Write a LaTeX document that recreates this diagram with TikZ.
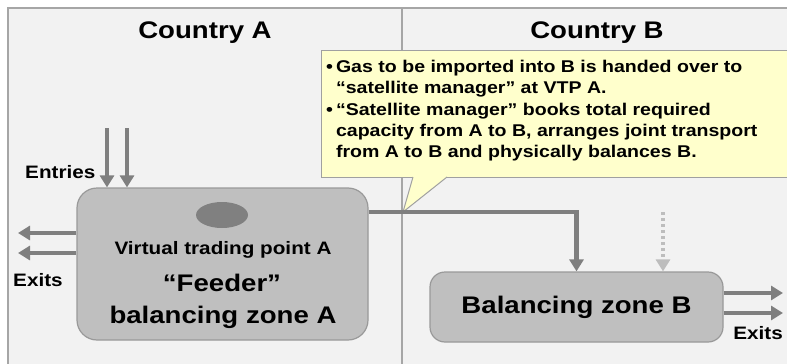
\documentclass[tikz,border=0pt]{standalone}
\usepackage{fontspec}
\setmainfont{Liberation Sans}[FakeStretch=1.15]
\usetikzlibrary{arrows.meta,shapes.geometric}
\definecolor{bggray}{HTML}{F2F2F2}
\definecolor{framegray}{HTML}{A6A6A6}
\definecolor{zonefill}{HTML}{BFBFBF}
\definecolor{zoneline}{HTML}{999999}
\definecolor{ellfill}{HTML}{808080}
\definecolor{arrowgray}{HTML}{7F7F7F}
\definecolor{lightarrow}{HTML}{BDBDBD}
\definecolor{callfill}{HTML}{FFFFCC}
\definecolor{callline}{HTML}{A0A0A0}
\tikzset{
  big/.style={font=\bfseries\fontsize{24}{28}\selectfont},
  mid/.style={font=\bfseries\fontsize{18}{21}\selectfont},
  zone/.style={draw=zoneline, line width=1.2pt, fill=zonefill, rounded corners=20pt, inner sep=0pt},
  flow/.style={draw=arrowgray, line width=4.5pt, -{Triangle[length=12pt,width=14pt]}},
  flowlight/.style={draw=lightarrow, line width=4pt, dash pattern=on 3pt off 3pt, -{Triangle[length=12pt,width=14pt]}},
  callbox/.style={draw=callline, line width=1.2pt, fill=callfill, inner sep=0pt},
}
\begin{document}
\begin{tikzpicture}[x=1pt,y=-1pt]
\useasboundingbox (0,0) rectangle (787,364);
\clip (0,0) rectangle (787,364);
\fill[white] (0,0) rectangle (787,364);
\fill[bggray] (8,8) rectangle (800,380);
\draw[framegray, line width=1.2pt] (8,380) -- (8,8) -- (800,8);
\draw[framegray, line width=1.2pt] (402,8) -- (402,380);

\node[big] (ctyA) at (205,33) {Country A};
\node[big] (ctyB) at (597,33) {Country B};

% zone A
\node[zone, minimum width=291pt, minimum height=152pt] (za) at (222.5,264) {};
\node[ellipse, fill=ellfill, minimum width=52pt, minimum height=26pt, inner sep=0pt] (vtp) at (222,215) {};
\node[mid] (vtpl) at (223,250) {Virtual trading point A};
\node[big] (feed) at (222,283) {“Feeder”};
\node[big] (bza) at (223,317) {balancing zone A};

% zone B
\node[zone, rounded corners=15pt, minimum width=293pt, minimum height=70pt] (zb) at (576.5,307) {};
\node[big] (bzb) at (576.5,307) {Balancing zone B};

% entries
\coordinate (e1) at (107,128);
\coordinate (e2) at (127,128);
\draw[flow] (e1) -- (e1 |- za.north);
\draw[flow] (e2) -- (e2 |- za.north);
\node[mid, anchor=west, inner sep=0pt] (entries) at (25,172) {Entries};

% exits A
\coordinate (xa1) at (18,233);
\coordinate (xa2) at (18,253);
\draw[flow] (za.west |- xa1) -- (xa1);
\draw[flow] (za.west |- xa2) -- (xa2);
\node[mid, anchor=west, inner sep=0pt] (exitsA) at (13,280) {Exits};

% exits B
\coordinate (xb1) at (783,293);
\coordinate (xb2) at (783,313);
\draw[flow] (zb.east |- xb1) -- (xb1);
\draw[flow] (zb.east |- xb2) -- (xb2);
\node[mid, anchor=east, inner sep=0pt] (exitsB) at (783,333) {Exits};

% callout
\node[callbox, anchor=north west, minimum width=475pt, minimum height=127pt] (cb) at (321,50) {};
\coordinate (ptr) at (403,212);
\coordinate (pa) at (413,177);
\coordinate (pb) at (447,177);
\fill[callfill] (pa) -- (ptr) -- (pb) -- cycle;
\draw[callline, line width=1pt] (pa) -- (ptr) -- (pb);

% connector A -> B
\coordinate (conn) at (402,212);
\draw[flow] (za.east |- conn) -| (zb.north);
\coordinate (dot) at (663,212);
\draw[flowlight] (dot) -- (dot |- zb.north);

\node[anchor=west, inner sep=0pt, font=\bfseries\fontsize{17}{21}\selectfont] (ctext) at (326,111)
{\begin{tabular}{@{}l@{\hspace{3pt}}l@{}}
• & Gas to be imported into B is handed over to\\
  & “satellite manager” at VTP A.\\[1pt]
• & “Satellite manager” books total required\\
  & capacity from A to B, arranges joint transport\\
  & from A to B and physically balances B.
\end{tabular}};
\end{tikzpicture}
\end{document}
